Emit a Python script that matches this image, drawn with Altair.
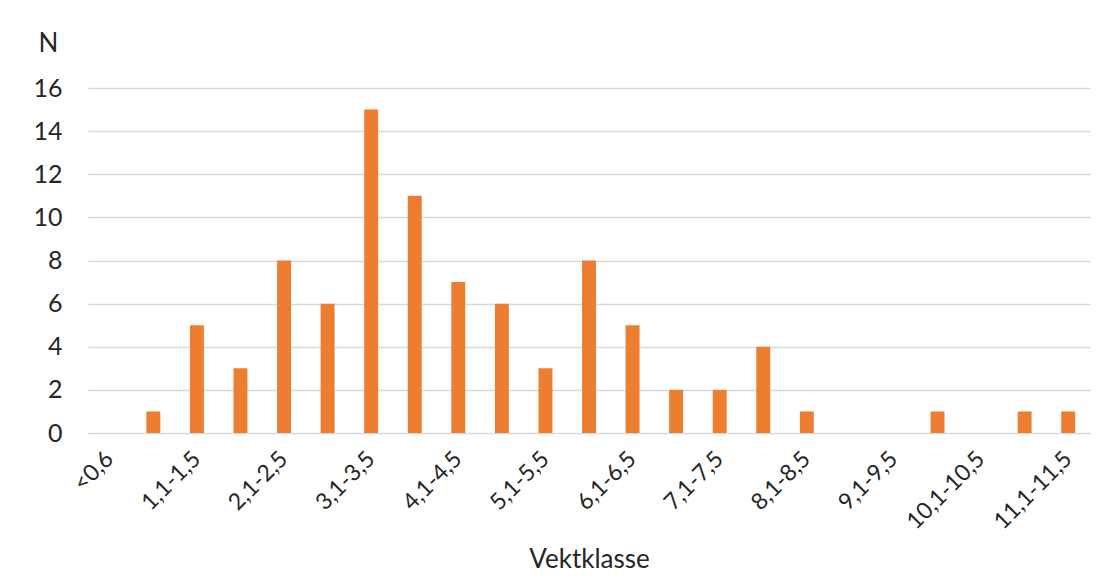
import altair as alt
import pandas as pd

categories = ["<0,6", "0,6-1,0", "1,1-1,5", "1,6-2,0", "2,1-2,5", "2,6-3,0",
              "3,1-3,5", "3,6-4,0", "4,1-4,5", "4,6-5,0", "5,1-5,5", "5,6-6,0",
              "6,1-6,5", "6,6-7,0", "7,1-7,5", "7,6-8,0", "8,1-8,5", "8,6-9,0",
              "9,1-9,5", "9,6-10,0", "10,1-10,5", "10,6-11,0", "11,1-11,5"]
counts = [0, 1, 5, 3, 8, 6, 15, 11, 7, 6, 3, 8, 5, 2, 2, 4, 1, 0, 0, 1, 0, 1, 1]
shown_labels = categories[::2]
y_ticks = [0, 2, 4, 6, 8, 10, 12, 14, 16]

df = pd.DataFrame({"Vektklasse": categories, "N": counts})

FONT = "Lato"
TXT = "#262626"

chart = alt.Chart(df).mark_bar(color="#ED7D31").encode(
    x=alt.X("Vektklasse:N", sort=categories,
            scale=alt.Scale(paddingInner=0.68, paddingOuter=0.34),
            axis=alt.Axis(values=shown_labels, labelAngle=-45, labelAlign="right",
                          labelBaseline="middle", labelPadding=22, ticks=False,
                          domain=False, labelFont=FONT, labelFontSize=23,
                          labelColor=TXT, title="Vektklasse", titleFont=FONT,
                          titleFontSize=26, titleFontWeight="normal",
                          titleColor=TXT, titleY=134, titleBaseline="alphabetic")),
    y=alt.Y("N:Q", scale=alt.Scale(domain=[0, 16]),
            axis=alt.Axis(values=y_ticks, ticks=False, domain=False,
                          labelPadding=26, labelFont=FONT, labelFontSize=25,
                          labelColor=TXT, gridColor="#d9d9d9", gridWidth=1.5,
                          title="N", titleAngle=0, titleX=-40, titleY=-45,
                          titleAlign="center", titleBaseline="middle",
                          titleFont=FONT, titleFontSize=26,
                          titleFontWeight="normal", titleColor=TXT)),
).properties(
    width=1002, height=345,
    autosize=alt.AutoSizeParams(type="none"),
    padding={"left": 80, "top": 80, "right": 12, "bottom": 139},
    background="white",
).configure_view(stroke=None)

chart.save("out.html", embed_options={"renderer": "svg", "actions": False})
